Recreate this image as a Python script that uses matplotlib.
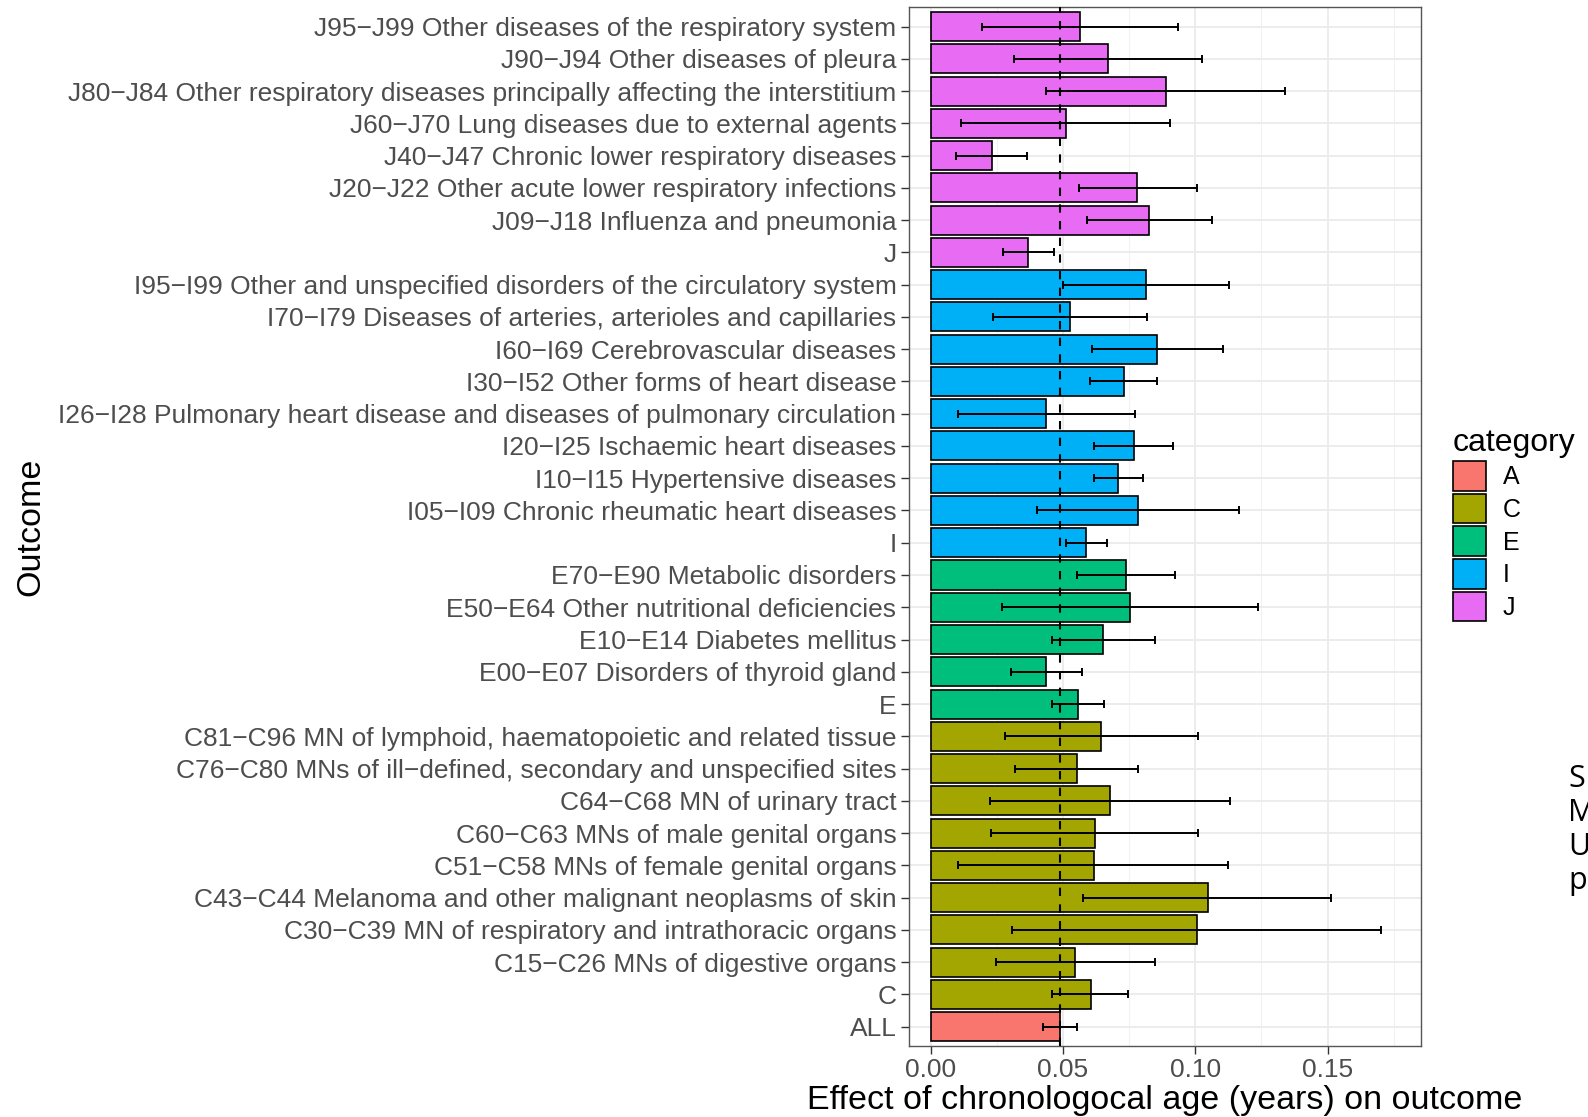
import matplotlib.pyplot as plt
import numpy as np
from matplotlib.patches import Patch

plt.rcParams['font.family'] = ['Liberation Sans', 'DejaVu Sans']

# outcomes from bottom to top
outcomes = [
    "ALL", "C",
    "C15−C26 MNs of digestive organs",
    "C30−C39 MN of respiratory and intrathoracic organs",
    "C43−C44 Melanoma and other malignant neoplasms of skin",
    "C51−C58 MNs of female genital organs",
    "C60−C63 MNs of male genital organs",
    "C64−C68 MN of urinary tract",
    "C76−C80 MNs of ill−defined, secondary and unspecified sites",
    "C81−C96 MN of lymphoid, haematopoietic and related tissue",
    "E",
    "E00−E07 Disorders of thyroid gland",
    "E10−E14 Diabetes mellitus",
    "E50−E64 Other nutritional deficiencies",
    "E70−E90 Metabolic disorders",
    "I",
    "I05−I09 Chronic rheumatic heart diseases",
    "I10−I15 Hypertensive diseases",
    "I20−I25 Ischaemic heart diseases",
    "I26−I28 Pulmonary heart disease and diseases of pulmonary circulation",
    "I30−I52 Other forms of heart disease",
    "I60−I69 Cerebrovascular diseases",
    "I70−I79 Diseases of arteries, arterioles and capillaries",
    "I95−I99 Other and unspecified disorders of the circulatory system",
    "J",
    "J09−J18 Influenza and pneumonia",
    "J20−J22 Other acute lower respiratory infections",
    "J40−J47 Chronic lower respiratory diseases",
    "J60−J70 Lung diseases due to external agents",
    "J80−J84 Other respiratory diseases principally affecting the interstitium",
    "J90−J94 Other diseases of pleura",
    "J95−J99 Other diseases of the respiratory system",
]
category = ["A"] + ["C"] * 9 + ["E"] * 5 + ["I"] * 9 + ["J"] * 8

effect = [0.0489, 0.0605, 0.0547, 0.1005, 0.1047, 0.0617, 0.0621, 0.0679, 0.0552, 0.0645,
          0.0557, 0.0436, 0.0653, 0.0753, 0.0738,
          0.0588, 0.0785, 0.0709, 0.0768, 0.0436, 0.0731, 0.0857, 0.0527, 0.0814,
          0.0369, 0.0826, 0.0781, 0.0231, 0.0510, 0.0888, 0.0671, 0.0564]
lower = [0.0426, 0.0460, 0.0246, 0.0306, 0.0577, 0.0105, 0.0228, 0.0225, 0.0317, 0.0280,
         0.0460, 0.0304, 0.0460, 0.0268, 0.0553,
         0.0511, 0.0401, 0.0619, 0.0616, 0.0102, 0.0602, 0.0608, 0.0234, 0.0499,
         0.0272, 0.0590, 0.0561, 0.0094, 0.0113, 0.0435, 0.0316, 0.0193]
upper = [0.0554, 0.0747, 0.0847, 0.1702, 0.1512, 0.1125, 0.1012, 0.1131, 0.0784, 0.1009,
         0.0654, 0.0571, 0.0847, 0.1238, 0.0923,
         0.0665, 0.1165, 0.0801, 0.0917, 0.0772, 0.0854, 0.1106, 0.0819, 0.1127,
         0.0466, 0.1062, 0.1005, 0.0365, 0.0905, 0.1340, 0.1027, 0.0933]
reference_effect = 0.049

cat_names = ["A", "C", "E", "I", "J"]
cat_colors = {"A": "#F8766D", "C": "#A3A500", "E": "#00BF7D", "I": "#00B0F6", "J": "#E76BF3"}

fig = plt.figure(figsize=(15.88, 11.17), dpi=100)
ax = fig.add_axes([0.5724, 0.0636, 0.3224, 0.9299])

y = np.arange(len(outcomes))
effect = np.array(effect)
err = np.array([effect - np.array(lower), np.array(upper) - effect])

ax.barh(y, effect, height=0.9, color=[cat_colors[c] for c in category],
        edgecolor='black', linewidth=1.2, zorder=2)
ax.errorbar(effect, y, xerr=err, fmt='none', ecolor='black', elinewidth=1.4,
            capsize=3.0, capthick=1.4, zorder=3)
ax.axvline(reference_effect, color='black', linestyle=(0, (4, 4)), linewidth=1.5, zorder=4)

ax.set_xlim(-0.0082, 0.1853)
ax.set_ylim(-0.6, len(outcomes) - 0.4)
ax.set_yticks(y)
ax.set_yticklabels(outcomes)
ax.set_xticks([0, 0.05, 0.10, 0.15])
ax.set_xticklabels(["0.00", "0.05", "0.10", "0.15"])
ax.set_xticks([0.025, 0.075, 0.125, 0.175], minor=True)

ax.grid(True, which='major', color='#EBEBEB', linewidth=1.3, zorder=0)
ax.grid(True, which='minor', axis='x', color='#F2F2F2', linewidth=0.8, zorder=0)
ax.set_axisbelow(True)
for s in ax.spines.values():
    s.set_color('#555555')
    s.set_linewidth(1.0)
ax.tick_params(axis='both', which='major', colors='#333333', labelcolor='#4D4D4D',
               labelsize=19, length=6, width=1.0, pad=3)
ax.tick_params(axis='x', which='minor', length=0)

ax.set_xlabel("Effect of chronologocal age (years) on outcome", fontsize=24.5, labelpad=2)
ax.set_ylabel("Outcome", fontsize=24.5)
ax.yaxis.set_label_coords(46 / 1588, 1 - 527 / 1117, transform=fig.transFigure)

handles = [Patch(facecolor=cat_colors[c], edgecolor='black', linewidth=1.2, label=c)
           for c in cat_names]
leg = fig.legend(handles=handles, title="category", loc='upper left',
                 bbox_to_anchor=(1453 / 1588, 1 - 428 / 1117), frameon=False,
                 fontsize=18, title_fontsize=23, handlelength=1.3, handleheight=1.45,
                 labelspacing=0.12, handletextpad=0.7, borderpad=0, borderaxespad=0,
                 alignment='left')

# cut-off text from the slide on the right
fig.text(1568 / 1588, 1 - 830 / 1117, "S\nM\nU\np", fontsize=22, va='center', ha='left',
         linespacing=1.16, family=['Open Sans', 'DejaVu Sans'])

plt.savefig('out.png', dpi=100)
